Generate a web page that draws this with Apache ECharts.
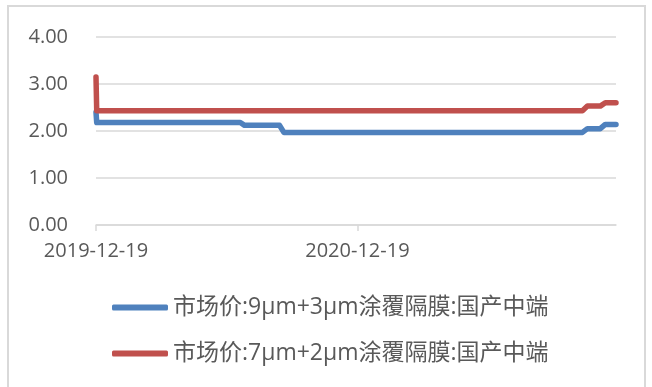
<!DOCTYPE html>
<html>
<head>
<meta charset="utf-8">
<script src="https://cdn.jsdelivr.net/npm/echarts@6/dist/echarts.min.js"></script>
<style>
  html, body { margin: 0; padding: 0; background: #fff; }
  #chart { width: 652px; height: 387px; }
</style>
</head>
<body>
<div id="chart"></div>
<script>
// Separator prices (yuan per square metre), change points of the weekly series
const seriesNames = [
  '市场价:9μm+3μm涂覆隔膜:国产中端',
  '市场价:7μm+2μm涂覆隔膜:国产中端'
];
const blueDates  = ['2019-12-19', '2019-12-20', '2020-07-08', '2020-07-14', '2020-09-01', '2020-09-07', '2021-10-30', '2021-11-06', '2021-11-24', '2021-12-01', '2021-12-16'];
const blueValues = [2.40, 2.18, 2.18, 2.12, 2.12, 1.97, 1.97, 2.05, 2.05, 2.14, 2.14];
const redDates   = ['2019-12-19', '2019-12-20', '2021-10-30', '2021-11-06', '2021-11-24', '2021-12-01', '2021-12-16'];
const redValues  = [3.15, 2.43, 2.43, 2.53, 2.53, 2.60, 2.60];
const xTickDates = ['2019-12-19', '2020-12-19'];
const yTicks = [0, 1, 2, 3, 4];

// x is measured in days from the first date
const DAY = 86400000;
const utc = s => { const [y, m, d] = s.split('-').map(Number); return Date.UTC(y, m - 1, d); };
const origin = utc(blueDates[0]);
const dayOf = s => Math.round((utc(s) - origin) / DAY);
const dateOf = n => {
  const d = new Date(origin + n * DAY);
  const p = v => String(v).padStart(2, '0');
  return d.getUTCFullYear() + '-' + p(d.getUTCMonth() + 1) + '-' + p(d.getUTCDate());
};
const pairs = (dates, vals) => dates.map((d, i) => [dayOf(d), vals[i]]);
const xTicks = xTickDates.map(dayOf);

const labelColor = '#595959';
const gridColor = '#d9d9d9';
const font = "'Open Sans', 'Noto Sans CJK SC', sans-serif";

const chart = echarts.init(document.getElementById('chart'), null, { renderer: 'canvas' });
chart.setOption({
  animation: false,
  backgroundColor: '#ffffff',
  graphic: [{
    type: 'rect',
    silent: true,
    shape: { x: 8, y: 6, width: 637, height: 400 },
    style: { fill: 'none', stroke: gridColor, lineWidth: 2 }
  }],
  grid: { left: 96, right: 36, top: 37, bottom: 162 },
  xAxis: {
    type: 'value',
    min: 0,
    max: dayOf(blueDates[blueDates.length - 1]),
    axisLine: { show: true, lineStyle: { color: gridColor, width: 1.5 } },
    axisTick: { show: true, length: 6, lineStyle: { color: gridColor, width: 1.5 },
                customValues: xTicks },
    splitLine: { show: false },
    axisLabel: {
      customValues: xTicks,
      formatter: v => dateOf(v),
      color: labelColor, fontSize: 20, fontFamily: font, margin: 16
    }
  },
  yAxis: {
    type: 'value',
    min: yTicks[0], max: yTicks[yTicks.length - 1], interval: 1,
    axisLine: { show: false },
    axisTick: { show: false },
    splitLine: { lineStyle: { color: gridColor, width: 1.5 } },
    axisLabel: {
      formatter: v => v.toFixed(2),
      color: labelColor, fontSize: 20, fontFamily: font, margin: 28
    }
  },
  legend: {
    orient: 'vertical',
    left: 112, top: 296, padding: 0,
    itemWidth: 56, itemHeight: 6, itemGap: 23,
    icon: 'roundRect',
    textStyle: { color: labelColor, fontSize: 23, fontFamily: font },
    data: seriesNames
  },
  series: [
    {
      name: seriesNames[0], type: 'line', showSymbol: false, symbol: 'none',
      data: pairs(blueDates, blueValues),
      itemStyle: { color: '#4f81bd' },
      lineStyle: { color: '#4f81bd', width: 5.5, cap: 'round', join: 'round' }
    },
    {
      name: seriesNames[1], type: 'line', showSymbol: false, symbol: 'none',
      data: pairs(redDates, redValues),
      itemStyle: { color: '#c0504d' },
      lineStyle: { color: '#c0504d', width: 5.5, cap: 'round', join: 'round' }
    }
  ]
});
</script>
</body>
</html>
